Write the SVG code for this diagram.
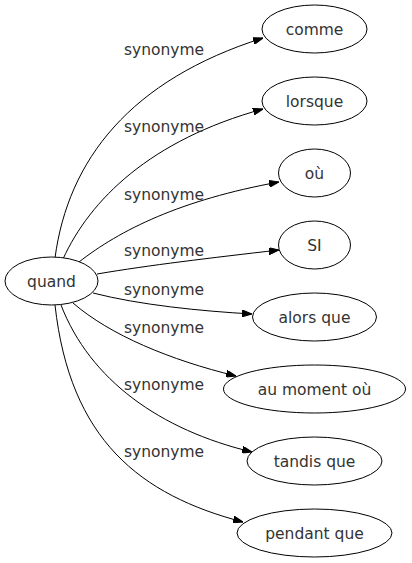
<svg xmlns="http://www.w3.org/2000/svg" width="412" height="563" viewBox="0 0 412 563">
<defs>
<style>
.n ellipse{fill:#fff;stroke:#000;stroke-width:1}
.t{font-family:"DejaVu Sans",sans-serif;font-size:15.5px;fill:#333;text-anchor:middle}
.e path{fill:none;stroke:#000;stroke-width:1}
.l{font-family:"DejaVu Sans",sans-serif;font-size:15.5px;fill:#333;text-anchor:middle}
</style>
<marker id="a" viewBox="0 0 10 7" refX="10" refY="3.5" markerWidth="10" markerHeight="7" markerUnits="userSpaceOnUse" orient="auto">
<path d="M0,0 L10,3.5 L0,7 Z" fill="#000" stroke="#000"/>
</marker>
</defs>
<rect width="412" height="563" fill="#fff"/>
<g class="e" id="edges">
<path d="M55,258 C68,160 130,80 263,38" marker-end="url(#a)"/>
<path d="M63,259 C90,200 150,140 263,109" marker-end="url(#a)"/>
<path d="M79,262 C120,230 180,200 279,182" marker-end="url(#a)"/>
<path d="M97,274 C150,265 210,258 279,250" marker-end="url(#a)"/>
<path d="M93,293 C140,305 200,311 252,314" marker-end="url(#a)"/>
<path d="M73,303 C110,335 170,360 236,376" marker-end="url(#a)"/>
<path d="M61,305 C90,380 160,430 252,452" marker-end="url(#a)"/>
<path d="M55,305 C70,440 140,495 243,522" marker-end="url(#a)"/>
<text class="l" x="164" y="55">synonyme</text>
<text class="l" x="164" y="132">synonyme</text>
<text class="l" x="164" y="200">synonyme</text>
<text class="l" x="164" y="256">synonyme</text>
<text class="l" x="164" y="295">synonyme</text>
<text class="l" x="164" y="333">synonyme</text>
<text class="l" x="164" y="390">synonyme</text>
<text class="l" x="164" y="457">synonyme</text>
</g>
<g class="n" id="quand"><ellipse cx="51.5" cy="281" rx="46.5" ry="24"/><text class="t" x="51.5" y="286.5">quand</text></g>
<g class="n" id="comme"><ellipse cx="314.5" cy="29" rx="52.5" ry="24"/><text class="t" x="314.5" y="34.5">comme</text></g>
<g class="n" id="lorsque"><ellipse cx="314.5" cy="101" rx="52.5" ry="24"/><text class="t" x="314.5" y="106.5">lorsque</text></g>
<g class="n" id="ou"><ellipse cx="314.5" cy="173" rx="36" ry="24"/><text class="t" x="314.5" y="178.5">où</text></g>
<g class="n" id="si"><ellipse cx="314.5" cy="245" rx="36" ry="24"/><text class="t" x="314.5" y="250.5">SI</text></g>
<g class="n" id="alors_que"><ellipse cx="314.5" cy="317" rx="62" ry="24"/><text class="t" x="314.5" y="322.5">alors que</text></g>
<g class="n" id="au_moment_ou"><ellipse cx="314.5" cy="389" rx="91" ry="24"/><text class="t" x="314.5" y="394.5">au moment où</text></g>
<g class="n" id="tandis_que"><ellipse cx="314.5" cy="461" rx="67.5" ry="24"/><text class="t" x="314.5" y="466.5">tandis que</text></g>
<g class="n" id="pendant_que"><ellipse cx="314.5" cy="533" rx="77.5" ry="24"/><text class="t" x="314.5" y="538.5">pendant que</text></g>
</svg>
